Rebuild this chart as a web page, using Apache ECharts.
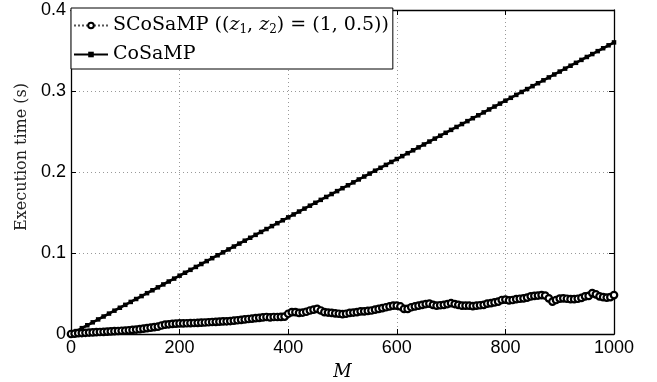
<!DOCTYPE html>
<html>
<head>
<meta charset="utf-8">
<script src="https://cdn.jsdelivr.net/npm/echarts@6/dist/echarts.min.js"></script>
<style>
  html, body { margin: 0; padding: 0; background: #fff; }
  #chart { width: 657px; height: 382px; }
</style>
</head>
<body>
<div id="chart"></div>
<script>
// M grid: SCoSaMP sampled every 1000/150, CoSaMP every 10
const M_MAX = 1000;
const SCOSAMP_POINTS = 151;
const COSAMP_STEP = 10;

const xTicks = [0, 200, 400, 600, 800, 1000];
const yTicks = [0, 0.1, 0.2, 0.3, 0.4];

// execution time (s)
const scosampTime = [
  0, 0.0005, 0.001, 0.0012, 0.0015, 0.0018, 0.002, 0.0022, 0.0025, 0.0027, 0.003, 0.0032, 0.0035, 0.0037, 0.004,
  0.0042, 0.0046, 0.005, 0.0055, 0.006, 0.0066, 0.0072, 0.0078, 0.0085, 0.009, 0.0105, 0.0115, 0.012, 0.0125, 0.0128,
  0.013, 0.013, 0.0133, 0.0135, 0.0136, 0.0138, 0.014, 0.0142, 0.0145, 0.0148, 0.015, 0.0152, 0.0155, 0.0157, 0.016,
  0.0165, 0.017, 0.0175, 0.018, 0.0185, 0.019, 0.0195, 0.02, 0.0205, 0.021, 0.0205, 0.021, 0.021, 0.0212, 0.0215,
  0.025, 0.027, 0.027, 0.026, 0.0265, 0.0275, 0.029, 0.03, 0.031, 0.029, 0.027, 0.0265, 0.026, 0.0255, 0.025,
  0.0245, 0.025, 0.026, 0.0265, 0.027, 0.028, 0.028, 0.0285, 0.029, 0.03, 0.031, 0.032, 0.033, 0.034, 0.035,
  0.035, 0.034, 0.031, 0.031, 0.033, 0.034, 0.035, 0.036, 0.037, 0.0375, 0.036, 0.035, 0.0355, 0.036, 0.037,
  0.038, 0.037, 0.036, 0.035, 0.035, 0.035, 0.0345, 0.035, 0.0355, 0.036, 0.0375, 0.038, 0.039, 0.04, 0.042,
  0.0425, 0.0415, 0.042, 0.043, 0.0435, 0.044, 0.045, 0.0465, 0.047, 0.0475, 0.048, 0.0475, 0.044, 0.04, 0.042,
  0.0437, 0.044, 0.0435, 0.043, 0.043, 0.0435, 0.0445, 0.0465, 0.047, 0.0505, 0.049, 0.0465, 0.0455, 0.045, 0.0455, 0.048
];

const cosampTime = [
  0, 0.0036, 0.0072, 0.0108, 0.0144, 0.018, 0.0216, 0.0252, 0.0288, 0.0324,
  0.036, 0.0396, 0.0432, 0.0468, 0.0504, 0.054, 0.0576, 0.0612, 0.0648, 0.0684,
  0.072, 0.0756, 0.0792, 0.0828, 0.0864, 0.09, 0.0936, 0.0972, 0.1008, 0.1044,
  0.108, 0.1116, 0.1152, 0.1188, 0.1224, 0.126, 0.1296, 0.1332, 0.1368, 0.1404,
  0.144, 0.1476, 0.1512, 0.1548, 0.1584, 0.162, 0.1656, 0.1692, 0.1728, 0.1764,
  0.18, 0.1836, 0.1872, 0.1908, 0.1944, 0.198, 0.2016, 0.2052, 0.2088, 0.2124,
  0.216, 0.2196, 0.2232, 0.2268, 0.2304, 0.234, 0.2376, 0.2412, 0.2448, 0.2484,
  0.252, 0.2556, 0.2592, 0.2628, 0.2664, 0.27, 0.2736, 0.2772, 0.2808, 0.2844,
  0.288, 0.2916, 0.2952, 0.2988, 0.3024, 0.306, 0.3096, 0.3132, 0.3168, 0.3204,
  0.324, 0.3276, 0.3312, 0.3348, 0.3384, 0.342, 0.3456, 0.3492, 0.3528, 0.3564, 0.36
];

const scosampData = scosampTime.map((v, i) => [i * M_MAX / (SCOSAMP_POINTS - 1), v]);
const cosampData = cosampTime.map((v, i) => [i * COSAMP_STEP, v]);

const SERIF = '"DejaVu Serif", "Liberation Serif", serif';
const SANS = '"Liberation Sans", Arial, sans-serif';

const chart = echarts.init(document.getElementById('chart'), null, { renderer: 'canvas' });

const tickStyle = { inside: true, length: 5, lineStyle: { color: '#000', width: 1 } };
const axisLine = { show: true, onZero: false, lineStyle: { color: '#000', width: 1.3 } };
const gridLine = { show: true, lineStyle: { color: '#999', type: [1, 3], width: 1 } };

chart.setOption({
  animation: false,
  backgroundColor: '#fff',
  grid: { left: 71, right: 43, top: 10, bottom: 48, outerBoundsMode: 'none', containLabel: false },
  legend: {
    orient: 'vertical',
    left: 71,
    top: 8,
    padding: [7, 4, 4, 2],
    itemGap: 8,
    itemWidth: 34,
    itemHeight: 7,
    backgroundColor: '#fff',
    borderColor: '#000',
    borderWidth: 1,
    data: ['SCoSaMP', 'CoSaMP'],
    formatter: name => name === 'SCoSaMP'
      ? '{n|SCoSaMP ((}{i|z}{s|1}{n|, }{i|z}{s|2}{n|) = (1, 0.5))}'
      : '{n|CoSaMP}',
    textStyle: {
      color: '#000',
      fontFamily: SERIF,
      fontSize: 19,
      lineHeight: 21,
      rich: {
        n: { fontFamily: SERIF, fontSize: 19, color: '#000', lineHeight: 21 },
        i: { fontFamily: SERIF, fontSize: 19, fontStyle: 'italic', color: '#000', lineHeight: 21 },
        s: { fontFamily: SERIF, fontSize: 12, color: '#000', lineHeight: 21, verticalAlign: 'bottom', padding: [9, 0, 0, 0] }
      }
    }
  },
  xAxis: [{
    type: 'value',
    min: 0, max: M_MAX, interval: 200,
    name: 'M',
    nameLocation: 'middle',
    nameGap: 29,
    nameTextStyle: { fontFamily: SERIF, fontStyle: 'italic', fontSize: 18, color: '#000' },
    axisLine: axisLine,
    axisTick: tickStyle,
    splitLine: gridLine,
    axisLabel: {
      color: '#000', fontFamily: SANS, fontSize: 18, margin: 5,
      formatter: v => xTicks.includes(v) ? String(v) : ''
    }
  }, {
    type: 'value', position: 'top',
    min: 0, max: M_MAX, interval: 200,
    axisLine: axisLine, axisTick: tickStyle,
    axisLabel: { show: false }, splitLine: { show: false }
  }],
  yAxis: [{
    type: 'value',
    min: 0, max: 0.4, interval: 0.1,
    name: 'Execution time (s)',
    nameLocation: 'middle',
    nameGap: 40,
    nameTextStyle: { fontFamily: SERIF, fontSize: 16, color: '#222', padding: [0, 0, 0, 30] },
    axisLine: axisLine,
    axisTick: tickStyle,
    splitLine: gridLine,
    axisLabel: {
      color: '#000', fontFamily: SANS, fontSize: 18, margin: 5,
      formatter: v => {
        const t = yTicks.find(y => Math.abs(y - v) < 1e-9);
        return t === undefined ? '' : String(t);
      }
    }
  }, {
    type: 'value', position: 'right',
    min: 0, max: 0.4, interval: 0.1,
    axisLine: axisLine, axisTick: tickStyle,
    axisLabel: { show: false }, splitLine: { show: false }
  }],
  series: [{
    name: 'SCoSaMP',
    type: 'line',
    data: scosampData,
    symbol: 'circle',
    symbolSize: 6.5,
    showAllSymbol: true,
    itemStyle: { color: '#fff', borderColor: '#000', borderWidth: 2.2 },
    lineStyle: { color: '#555', width: 1, type: 'dotted' },
    z: 3
  }, {
    name: 'CoSaMP',
    type: 'line',
    data: cosampData,
    symbol: 'rect',
    symbolSize: 4.5,
    showAllSymbol: true,
    itemStyle: { color: '#000' },
    lineStyle: { color: '#000', width: 2.6 },
    z: 2
  }]
});
</script>
</body>
</html>
